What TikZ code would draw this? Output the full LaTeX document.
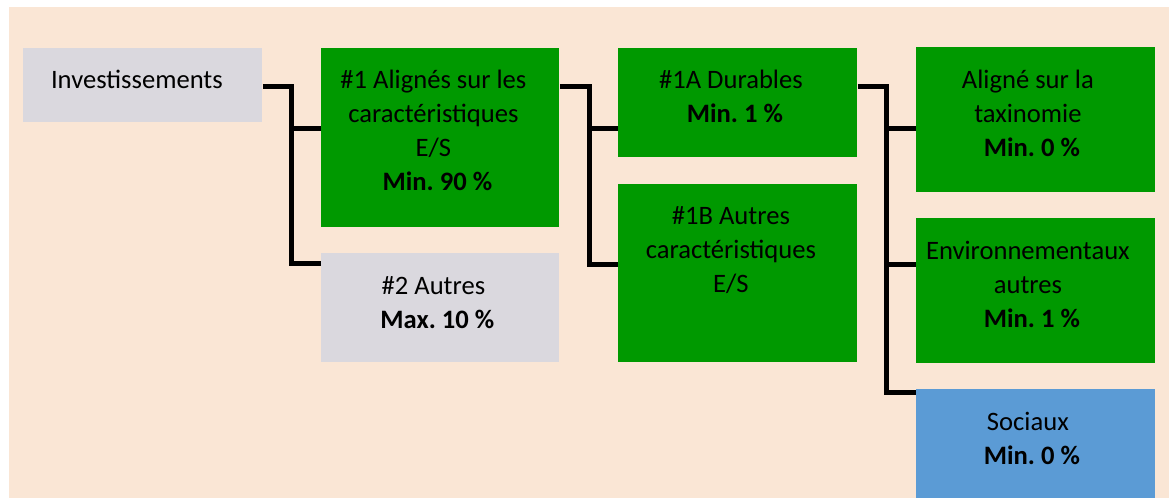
\documentclass[tikz,border=0pt]{standalone}
\usepackage{fontspec}
\setmainfont{Carlito}
\usetikzlibrary{positioning,calc}

\definecolor{peach}{RGB}{250,230,213}
\definecolor{boxgreen}{RGB}{0,153,0}
\definecolor{boxgrey}{RGB}{218,216,222}
\definecolor{boxblue}{RGB}{91,155,213}

\newcommand{\minline}[1]{\hspace*{4pt}\textbf{#1}}

\tikzset{
  box/.style={rectangle, inner sep=0pt, anchor=north west},
  greenbox/.style={box, fill=boxgreen},
  greybox/.style={box, fill=boxgrey},
  bluebox/.style={box, fill=boxblue},
  txt/.style={align=center, inner sep=0pt, font=\fontsize{13.3}{17}\selectfont},
  link/.style={line width=2.5pt, line join=miter, draw=black},
}

\begin{document}
\begin{tikzpicture}[x=0.5pt, y=-0.5pt]
  \useasboundingbox[fill=white] (0,0) rectangle (1175,498);
  \fill[peach] (9,7) rectangle (1169,498);

  % boxes
  \node[greybox, minimum width=119.5pt, minimum height=37pt] (inv) at (23,48) {};
  \node[greenbox, minimum width=119pt, minimum height=89.5pt] (n1) at (321,48) {};
  \node[greybox, minimum width=119pt, minimum height=54.5pt] (n2) at (321,253) {};
  \node[greenbox, minimum width=119.5pt, minimum height=54.5pt] (n1a) at (618,48) {};
  \node[greenbox, minimum width=119.5pt, minimum height=89pt] (n1b) at (618,184) {};
  \node[greenbox, minimum width=119.5pt, minimum height=72.5pt] (tax) at (916,47) {};
  \node[greenbox, minimum width=119.5pt, minimum height=72.5pt] (env) at (916,218) {};
  \node[bluebox, minimum width=119.5pt, minimum height=54.5pt] (soc) at (916,389) {};

  % texts
  \node[txt, below=11pt of inv.north, xshift=-3pt] (inv-t) {Investissements};
  \node[txt, below=11pt of n1.north, xshift=-3.5pt] (n1-t)
    {\#1 Alignés sur les\\caractéristiques\\E/S\\\minline{Min.~90~\%}};
  \node[txt, below=11.5pt of n2.north, xshift=-3.5pt] (n2-t) {\#2 Autres\\\minline{Max.~10~\%}};
  \node[txt, below=11pt of n1a.north, xshift=-3.5pt] (n1a-t) {\#1A Durables\\\minline{Min.~1~\%}};
  \node[txt, below=11pt of n1b.north, xshift=-3.5pt] (n1b-t) {\#1B Autres\\caractéristiques\\E/S};
  \node[txt, below=11.5pt of tax.north, xshift=-4pt] (tax-t) {Aligné sur la\\taxinomie\\\minline{Min.~0~\%}};
  \node[txt, below=11.5pt of env.north, xshift=-4pt] (env-t) {Environnementaux\\autres\\\minline{Min.~1~\%}};
  \node[txt, below=11.5pt of soc.north, xshift=-4pt] (soc-t) {Sociaux\\\minline{Min.~0~\%}};

  % connectors
  \draw[link] ($(inv.north east)+(0,38.5)$) -- ++(29,0) coordinate (j1)
    |- ($(n2.north west)+(0,10)$);
  \draw[link] ($(n1.north west)+(0,80.5)$) -- ++(-30,0);

  \draw[link] ($(n1.north east)+(0,38.5)$) -- ++(30,0) coordinate (j2)
    |- ($(n1b.north west)+(0,80.5)$);
  \draw[link] ($(n1a.north west)+(0,80.5)$) -- ++(-29,0);

  \draw[link] ($(n1a.north east)+(0,38.5)$) -- ++(29,0) coordinate (j3)
    |- ($(soc.north west)+(0,3.5)$);
  \draw[link] ($(tax.north west)+(0,81.5)$) -- ++(-30,0);
  \draw[link] ($(env.north west)+(0,46.5)$) -- ++(-30,0);
\end{tikzpicture}
\end{document}
